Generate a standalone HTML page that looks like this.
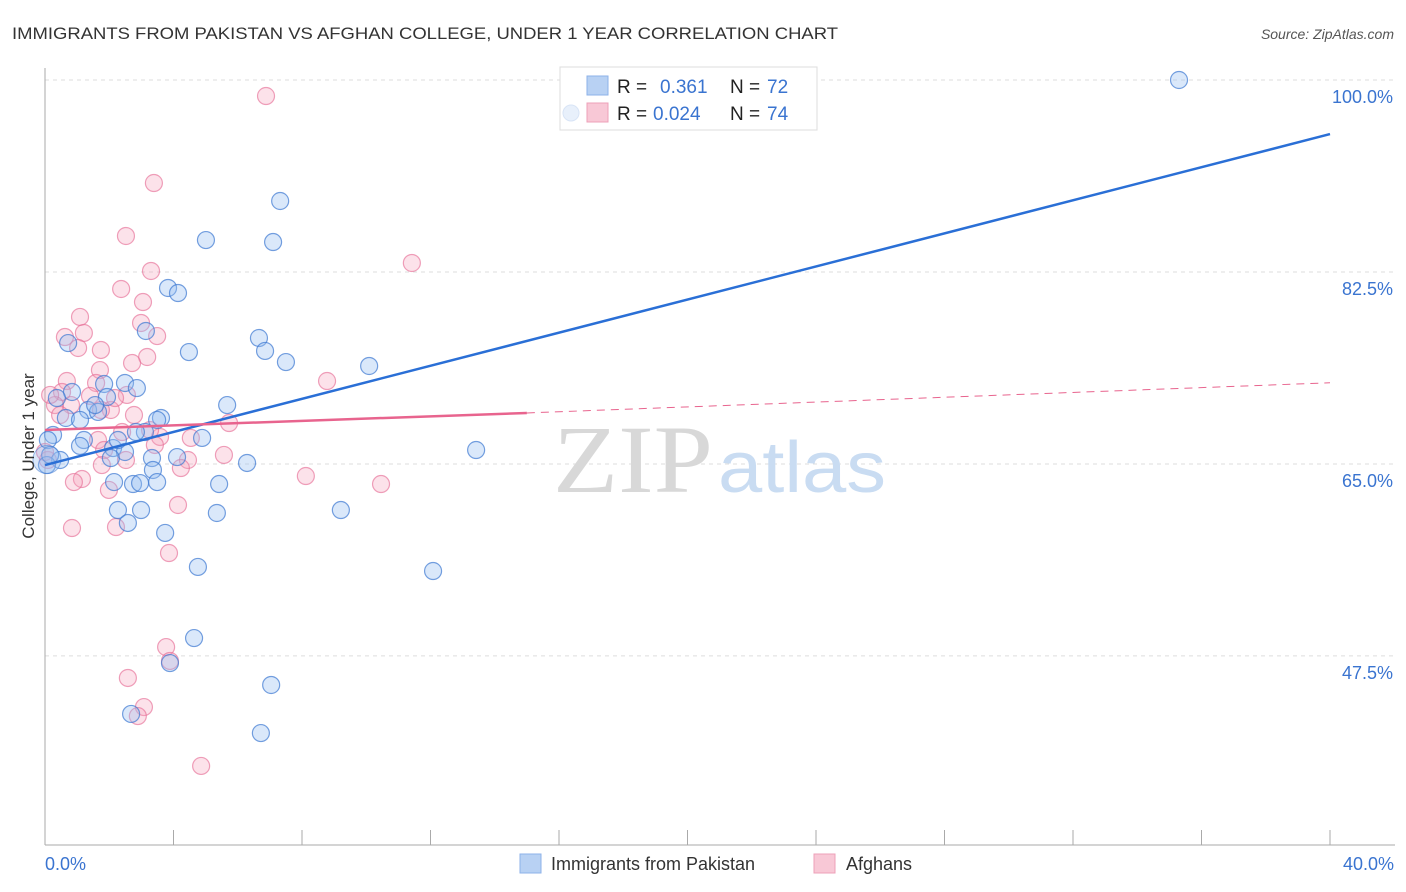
<!DOCTYPE html>
<html><head><meta charset="utf-8"><style>
html,body{margin:0;padding:0;background:#fff;}
svg{display:block;font-family:"Liberation Sans",sans-serif;}
</style></head><body>
<svg id="chart" width="1406" height="892" viewBox="0 0 1406 892" xmlns="http://www.w3.org/2000/svg">
<text x="12" y="39" font-size="17" fill="#333" textLength="826" lengthAdjust="spacingAndGlyphs">IMMIGRANTS FROM PAKISTAN VS AFGHAN COLLEGE, UNDER 1 YEAR CORRELATION CHART</text>
<text x="1394" y="39" font-size="14" font-style="italic" fill="#555" text-anchor="end">Source: ZipAtlas.com</text>
<g id="grid"></g>
<g>
<text x="553" y="492" font-family="Liberation Serif,serif" font-size="96" fill="#d8d8d8" textLength="160" lengthAdjust="spacingAndGlyphs">ZIP</text>
<text x="718" y="492" font-size="72" fill="#c9dcf2" textLength="168" lengthAdjust="spacingAndGlyphs">atlas</text>
</g>
<line x1="45" y1="68" x2="45" y2="845" stroke="#aaa" stroke-width="1"/>
<line x1="45" y1="845" x2="1395" y2="845" stroke="#aaa" stroke-width="1"/>
<g id="xticks"></g>
<g id="pinkPts"></g>
<g id="bluePts"></g>
<g id="lines"></g>
<text transform="translate(34,456) rotate(-90)" font-size="17" fill="#333" text-anchor="middle">College, Under 1 year</text>
<text x="45" y="870" font-size="18" fill="#3a74d0">0.0%</text>
<text x="1394" y="870" font-size="18" fill="#3a74d0" text-anchor="end">40.0%</text>
<g>
<rect x="560" y="67" width="257" height="63" fill="#fff" stroke="#ddd"/>
<circle cx="571" cy="113" r="8" fill="#e8f0fb" stroke="#d8e4f6"/>
<rect x="587" y="76" width="21" height="19" fill="#b8d1f3" stroke="#8db2e8"/>
<rect x="587" y="103" width="21" height="19" fill="#f8c8d6" stroke="#eea0b8"/>
<text x="617" y="93" font-size="19" fill="#222">R = </text><text x="660" y="93" font-size="19" fill="#3a74d0">0.361</text>
<text x="730" y="93" font-size="19" fill="#222">N = </text><text x="767" y="93" font-size="19" fill="#3a74d0">72</text>
<text x="617" y="120" font-size="19" fill="#222">R = </text><text x="653" y="120" font-size="19" fill="#3a74d0">0.024</text>
<text x="730" y="120" font-size="19" fill="#222">N = </text><text x="767" y="120" font-size="19" fill="#3a74d0">74</text>
</g>
<g>
<rect x="520" y="854" width="21" height="19" fill="#b8d1f3" stroke="#8db2e8"/>
<text x="551" y="870" font-size="18" fill="#333">Immigrants from Pakistan</text>
<rect x="814" y="854" width="21" height="19" fill="#f8c8d6" stroke="#eea0b8"/>
<text x="846" y="870" font-size="18" fill="#333">Afghans</text>
</g>
</svg>
<script>
const yTicks=[100,82.5,65,47.5];
const yTickLabels=["100.0%","82.5%","65.0%","47.5%"];
const xTicks=[0,4,8,12,16,20,24,28,32,36,40];
const blueX=[35.30,7.32,5.01,7.10,3.83,4.14,3.14,0.72,4.48,6.66,6.85,7.50,10.09,2.49,1.84,2.86,0.84,1.93,0.37,5.67,1.34,1.65,3.61,0.65,3.49,3.11,0.25,4.89,1.21,1.09,2.12,2.49,13.42,3.33,4.11,0.47,2.05,6.29,3.36,3.49,2.74,2.96,5.42,2.15,2.27,2.99,5.35,9.21,2.58,3.74,4.76,12.08,4.64,3.89,7.04,2.68,6.72,0.06,0.09,0.16,2.27,2.83,1.56,1.09];
const blueY=[100,88.97,85.41,85.23,81.04,80.58,77.12,76.02,75.20,76.48,75.30,74.29,73.93,72.38,72.29,71.92,71.56,71.10,71.01,70.37,69.92,69.74,69.19,69.19,69.01,67.91,67.64,67.37,67.18,66.64,66.45,66.09,66.27,65.54,65.63,65.36,65.54,65.09,64.45,63.35,63.17,63.26,63.17,63.35,60.80,60.80,60.53,60.80,59.62,58.71,55.61,55.24,49.13,46.85,44.85,42.21,40.47,64.90,67.18,65.82,67.18,67.91,70.37,69.01];
const pinkX=[6.88,3.39,2.52,11.42,3.30,2.37,3.05,1.09,2.99,1.21,0.62,3.49,1.03,3.18,2.71,1.74,8.78,0.68,1.71,0.53,1.59,0.81,0.31,0.47,2.55,2.05,1.74,2.77,5.73,2.40,4.54,3.58,1.65,3.42,1.84,5.57,2.52,4.45,4.23,1.77,8.12,1.15,0.90,10.46,1.99,4.14,0.84,2.21,3.86,3.77,3.89,2.58,3.08,2.89,4.86,0.09,0.16,1.40,2.18,3.27,0.0];
const pinkY=[98.54,90.61,85.78,83.32,82.59,80.95,79.76,78.40,77.85,76.94,76.57,76.66,75.57,74.75,74.20,75.39,72.56,72.56,73.56,71.56,72.38,70.37,70.37,69.46,71.29,69.92,69.92,69.46,68.73,67.91,67.37,67.46,67.18,66.73,66.27,65.82,65.36,65.36,64.63,64.90,63.90,63.63,63.35,63.17,62.63,61.26,59.16,59.25,56.88,48.31,47.04,45.49,42.84,42.02,37.47,65.36,71.29,71.20,71.01,68.09,66.09];
const blueTrend=[0,64.9,40,95.07];
const pinkTrend=[0,68.1,15,69.65,40,72.4];

const NS="http://www.w3.org/2000/svg";
function sx(v){return 45+v*32.125;}
function sy(v){return 80+(100-v)*10.97;}
function mk(tag,attrs,parent){const e=document.createElementNS(NS,tag);for(const k in attrs)e.setAttribute(k,attrs[k]);parent.appendChild(e);return e;}
const grid=document.getElementById('grid');
yTicks.forEach((t,i)=>{
  const l=mk('line',{x1:45,x2:1395,y1:sy(t),y2:sy(t),stroke:'#ddd','stroke-dasharray':'4,4'},grid);
  
  
  const tx=mk('text',{x:1393,y:sy(t)+23,'font-size':18,fill:'#3a74d0','text-anchor':'end'},grid);
  tx.textContent=yTickLabels[i];
  
  
});
const xt=document.getElementById('xticks');
xTicks.forEach(t=>{
  const l=mk('line',{x1:sx(t),x2:sx(t),y1:830,y2:845,stroke:'#aaa'},xt);
  
  
});
const pg=document.getElementById('pinkPts');
pinkX.forEach((x,i)=>{
  const c=mk('circle',{cx:sx(x),cy:sy(pinkY[i]),r:8.5,fill:'rgba(244,160,186,0.3)',stroke:'rgba(230,110,150,0.65)','stroke-width':1.2},pg);
  
  
});
const bg=document.getElementById('bluePts');
blueX.forEach((x,i)=>{
  const c=mk('circle',{cx:sx(x),cy:sy(blueY[i]),r:8.5,fill:'rgba(150,190,240,0.35)',stroke:'rgba(60,120,210,0.7)','stroke-width':1.2},bg);
  
  
});
const big=mk('circle',{cx:sx(0.06),cy:sy(65.4),r:14,fill:'rgba(150,190,240,0.35)',stroke:'rgba(60,120,210,0.5)'},bg);


const lg=document.getElementById('lines');
const bl=mk('line',{x1:sx(blueTrend[0]),y1:sy(blueTrend[1]),x2:sx(blueTrend[2]),y2:sy(blueTrend[3]),stroke:'#2a6fd6','stroke-width':2.5},lg);


const pl=mk('line',{x1:sx(pinkTrend[0]),y1:sy(pinkTrend[1]),x2:sx(pinkTrend[2]),y2:sy(pinkTrend[3]),stroke:'#e8648e','stroke-width':2.5},lg);


const pd=mk('line',{x1:sx(pinkTrend[2]),y1:sy(pinkTrend[3]),x2:sx(pinkTrend[4]),y2:sy(pinkTrend[5]),stroke:'#e8648e','stroke-width':1,'stroke-dasharray':'8,6'},lg);


</script>
</body></html>
